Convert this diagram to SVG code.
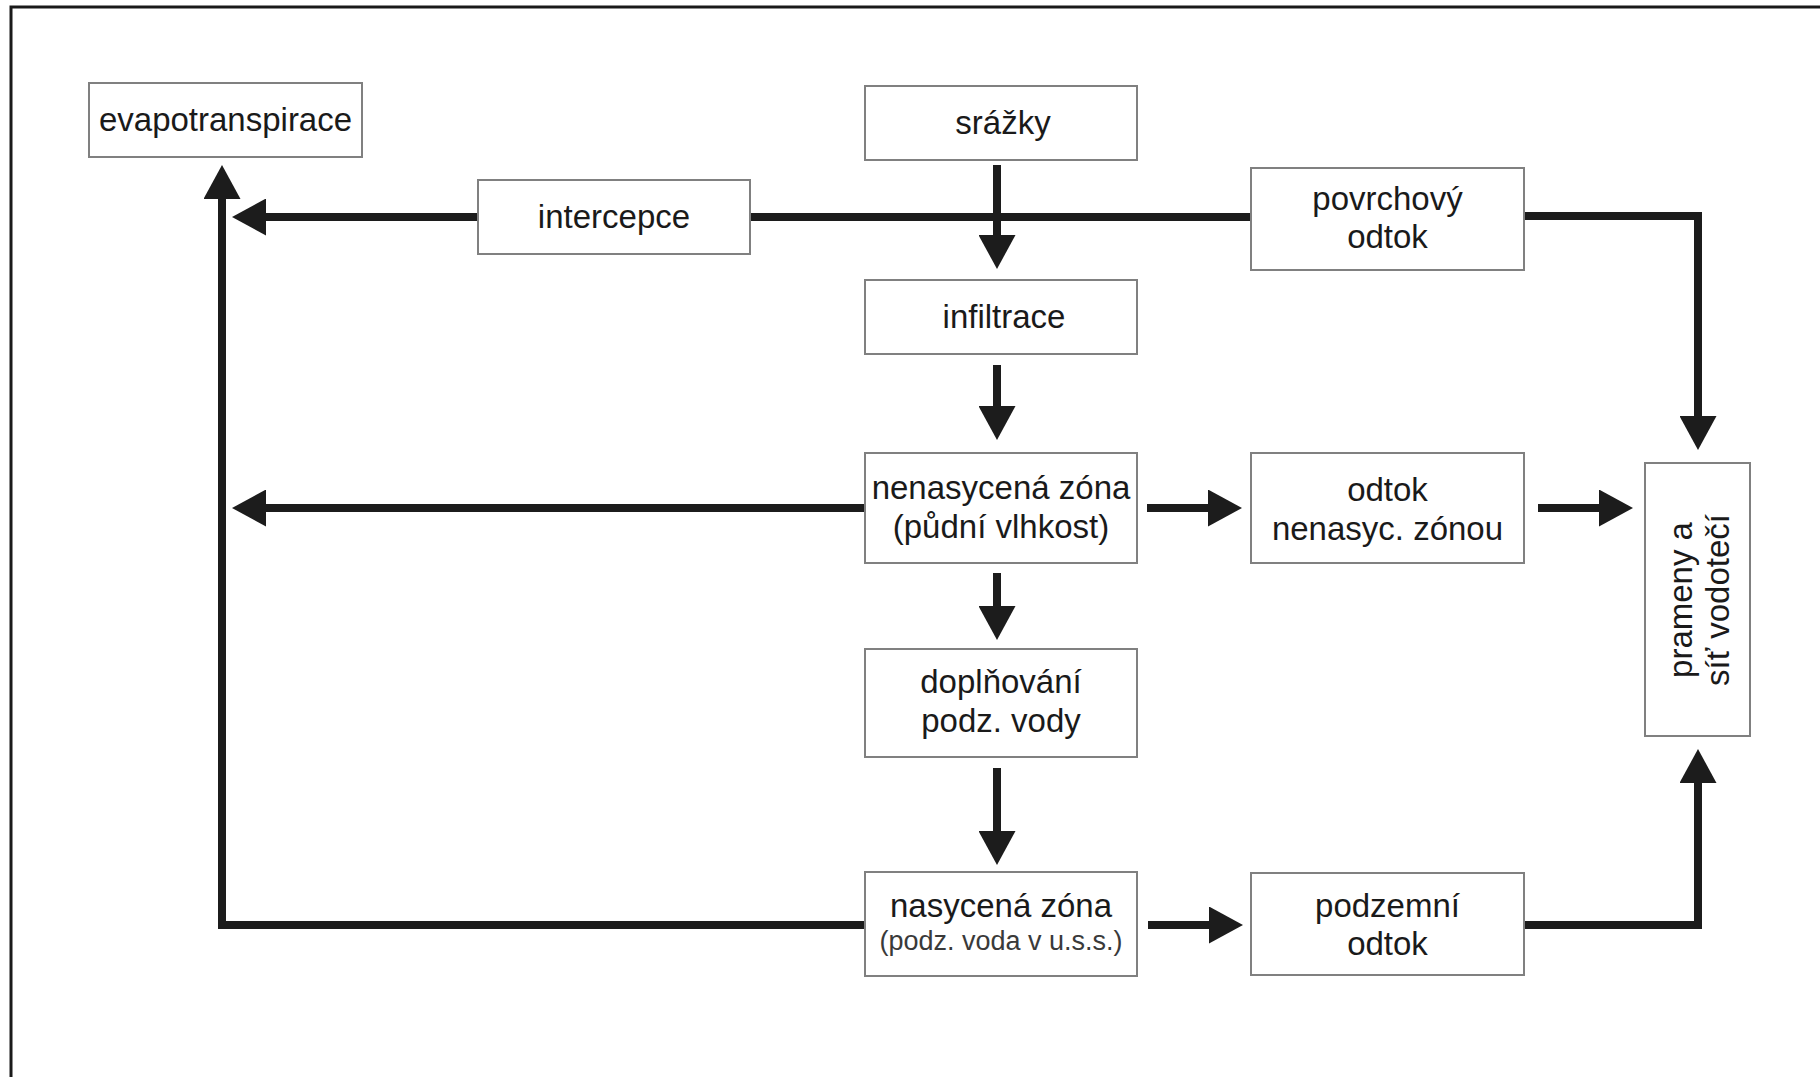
<svg xmlns="http://www.w3.org/2000/svg" width="1820" height="1077" viewBox="0 0 1820 1077">
<style>
.box{fill:#fff;stroke:#808080;stroke-width:2}
.t{font-family:"Liberation Sans",Arial,sans-serif;font-size:33px;fill:#1a1a1a;text-anchor:middle}
.s{font-family:"Liberation Sans",Arial,sans-serif;font-size:27px;fill:#3a3a3a;text-anchor:middle}
.c{fill:none;stroke:#1c1c1c;stroke-width:8}
.ca{fill:none;stroke:#1c1c1c;stroke-width:8;marker-end:url(#ah)}
</style>
<defs>
<marker id="ah" viewBox="0 0 34 37" refX="14" refY="18.5" markerWidth="34" markerHeight="37" markerUnits="userSpaceOnUse" orient="auto">
<path d="M0 0 L34 18.5 L0 37 Z" fill="#1c1c1c"/>
</marker>
</defs>
<rect width="1820" height="1077" fill="#fff"/>
<path d="M11 1077 V7 H1820" fill="none" stroke="#1a1a1a" stroke-width="3"/>
<g id="connectors">
<path class="ca" d="M865 925 H222 V185"/>
<path class="ca" d="M478 217 H252"/>
<path class="c" d="M750 217 H1251"/>
<path class="ca" d="M1524 216 H1698 V430"/>
<path class="ca" d="M997 165 V249"/>
<path class="ca" d="M997 365 V420"/>
<path class="ca" d="M865 508 H252"/>
<path class="ca" d="M1147 508 H1222"/>
<path class="ca" d="M1538 508 H1613"/>
<path class="ca" d="M997 573 V620"/>
<path class="ca" d="M997 768 V845"/>
<path class="ca" d="M1148 925 H1223"/>
<path class="ca" d="M1524 925 H1698 V769"/>
</g>
<g id="evapotranspirace"><rect class="box" x="89" y="83" width="273" height="74"/><text class="t" x="225.5" y="131">evapotranspirace</text></g>
<g id="srazky"><rect class="box" x="865" y="86" width="272" height="74"/><text class="t" x="1003" y="134">srážky</text></g>
<g id="intercepce"><rect class="box" x="478" y="180" width="272" height="74"/><text class="t" x="614" y="228">intercepce</text></g>
<g id="povrchovy"><rect class="box" x="1251" y="168" width="273" height="102"/><text class="t" x="1387.5" y="210">povrchový</text><text class="t" x="1387.5" y="248">odtok</text></g>
<g id="infiltrace"><rect class="box" x="865" y="280" width="272" height="74"/><text class="t" x="1004" y="328">infiltrace</text></g>
<g id="nenasycena"><rect class="box" x="865" y="453" width="272" height="110"/><text class="t" x="1001" y="499">nenasycená zóna</text><text class="t" x="1001" y="538">(půdní vlhkost)</text></g>
<g id="odtok-nenasyc"><rect class="box" x="1251" y="453" width="273" height="110"/><text class="t" x="1387.5" y="501">odtok</text><text class="t" x="1387.5" y="540">nenasyc. zónou</text></g>
<g id="prameny"><rect class="box" x="1645" y="463" width="105" height="273"/><text class="t" transform="translate(1692,600) rotate(-90)">prameny a</text><text class="t" transform="translate(1729,600) rotate(-90)">síť vodotečí</text></g>
<g id="doplnovani"><rect class="box" x="865" y="649" width="272" height="108"/><text class="t" x="1001" y="693">doplňování</text><text class="t" x="1001" y="732">podz. vody</text></g>
<g id="nasycena"><rect class="box" x="865" y="872" width="272" height="104"/><text class="t" x="1001" y="917">nasycená zóna</text><text class="s" x="1001" y="950">(podz. voda v u.s.s.)</text></g>
<g id="podzemni"><rect class="box" x="1251" y="873" width="273" height="102"/><text class="t" x="1387.5" y="917">podzemní</text><text class="t" x="1387.5" y="955">odtok</text></g>
</svg>
